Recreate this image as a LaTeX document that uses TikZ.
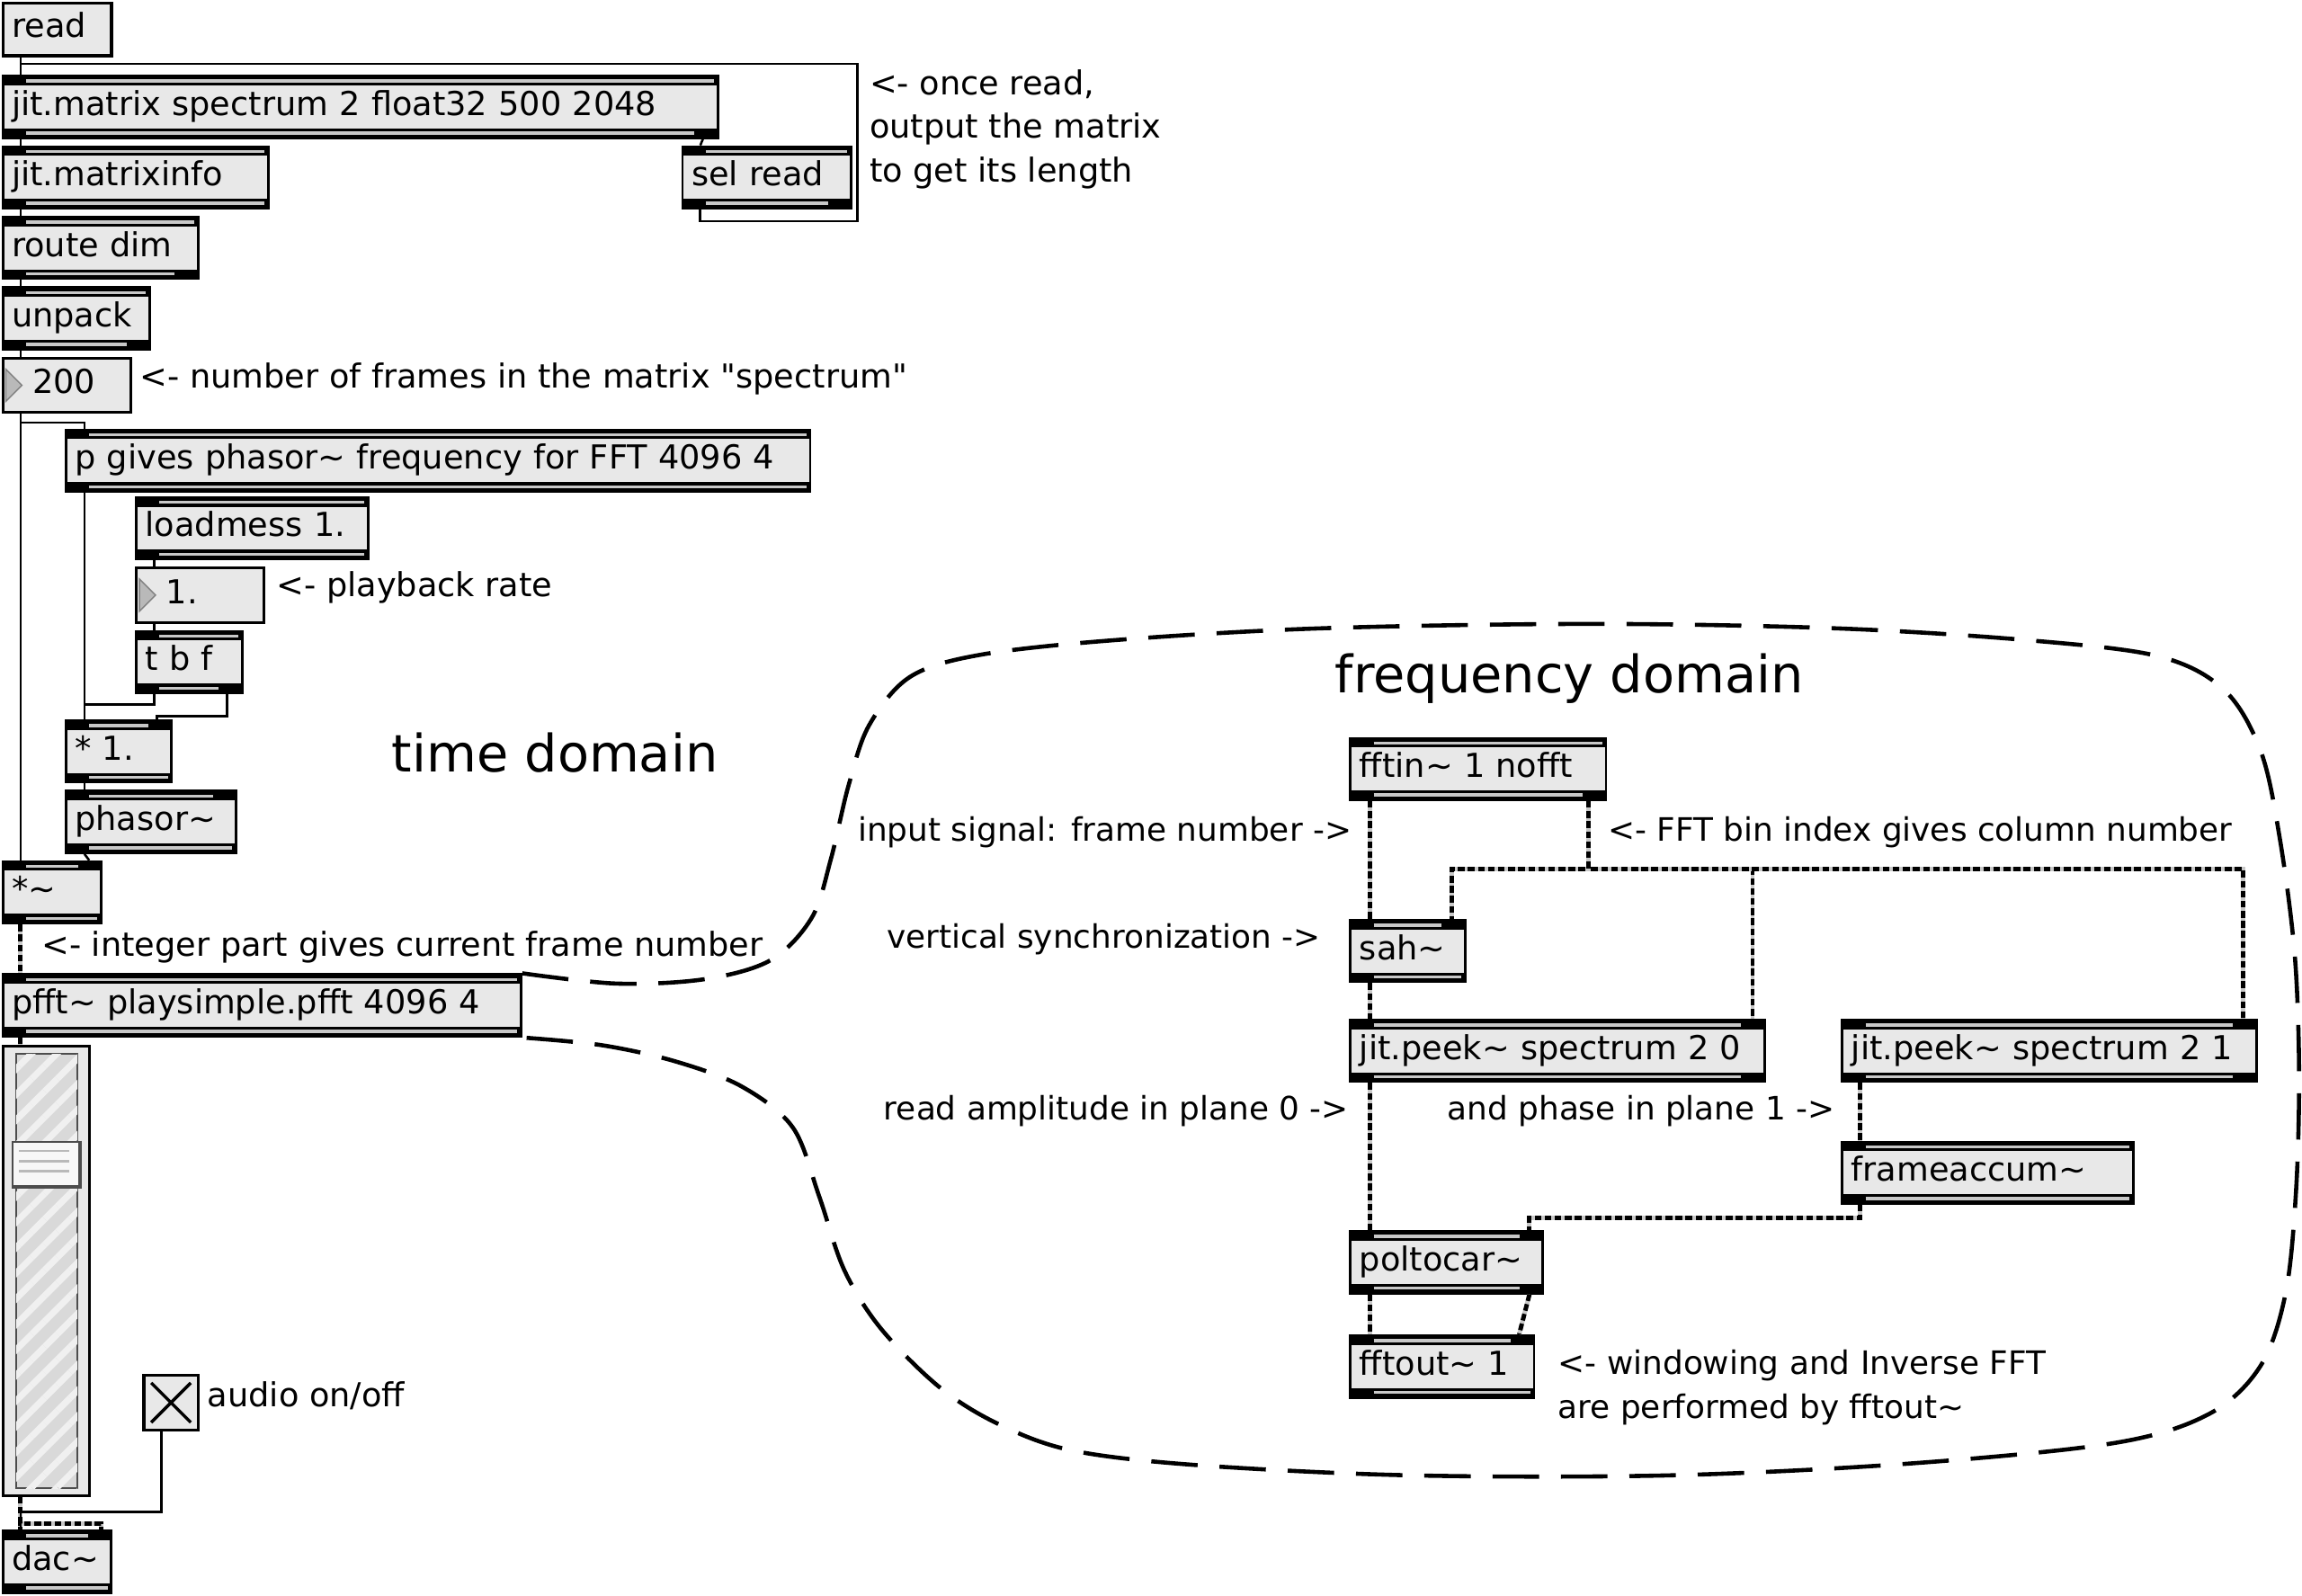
\documentclass[tikz,border=0pt]{standalone}
\usepackage{fontspec}
\setmainfont{DejaVu Sans}[Ligatures=TeXOff]
\usepackage{tikz}
\usetikzlibrary{positioning}
\usetikzlibrary{patterns.meta}
\definecolor{boxgray}{RGB}{232,232,232}
\definecolor{stripegray}{RGB}{200,200,200}
\tikzset{font={\fontsize{12.8pt}{17pt}\selectfont}}
\tikzset{
  boxw/.code={\pgfmathsetlengthmacro\boxw{#1*0.02cm}\pgfmathsetlengthmacro\boxtw{#1*0.02cm-7pt}%
    \edef\boxtmp{\noexpand\pgfkeysalso{minimum width=\boxw, text width=\boxtw}}\boxtmp},
  rin/.code={\def\portr{9pt}},
  rout/.code={\def\portrb{9pt}},
  stripe/.style={stripegray, line width=1.2pt},
  obj/.style={draw, line width=1pt, fill=boxgray, anchor=north west, align=left,
    minimum height=0.84cm, inner xsep=3.5pt, inner ysep=0pt, text height=9pt, text depth=2.5pt,
    /utils/exec={\def\portr{1.5pt}\def\portrb{1.5pt}},
    path picture={
      \fill[black] ([yshift=-3.6pt]path picture bounding box.north west) rectangle (path picture bounding box.north east);
      \fill[black] ([yshift=3.6pt]path picture bounding box.south west) rectangle (path picture bounding box.south east);
      \draw[stripe] ([xshift=9pt,yshift=-1.9pt]path picture bounding box.north west) -- ([xshift=-\portr,yshift=-1.9pt]path picture bounding box.north east);
      \draw[stripe] ([xshift=9pt,yshift=1.9pt]path picture bounding box.south west) -- ([xshift=-\portrb,yshift=1.9pt]path picture bounding box.south east);
    }},
  msg/.style={draw, line width=1.1pt, fill=boxgray, anchor=north west, align=left,
    minimum height=0.72cm, inner xsep=3.5pt, inner ysep=0pt, text height=9pt, text depth=2.5pt},
  numbox/.style={msg, minimum height=0.74cm, execute at begin node={\hspace*{8pt}},
    path picture={
      \filldraw[fill=gray!55, draw=gray, line width=0.5pt] ([shift={(2,-11)}]path picture bounding box.west)
        -- ([shift={(13,0)}]path picture bounding box.west) -- ([shift={(2,11)}]path picture bounding box.west) -- cycle;}},
  cord/.style={line width=0.9pt},
  sig/.style={line width=1.7pt, dash pattern=on 2.6pt off 1.3pt, preaction={draw=stripegray, solid, line width=1.7pt}},
  domline/.style={line width=1.6pt, dash pattern=on 18pt off 8.5pt},
  note/.style={anchor=west, inner sep=0pt, align=left},
  fnote/.style={note, font={\fontsize{12.5pt}{17pt}\selectfont}},
  bignote/.style={inner sep=0pt, font={\fontsize{20pt}{24pt}\selectfont}}
}

\begin{document}
\begin{tikzpicture}[x=0.02cm, y=-0.02cm]
  \path[use as bounding box, fill=white] (0,0) rectangle (1568,1087);

  % Define nodes
  \node[msg, boxw=74] (read) at (1,1) {read};
  \node[obj, boxw=487, rout] (mtx) at (1,51) {jit.matrix spectrum 2 float32 500 2048};
  \node[obj, boxw=181, below=0.085cm of mtx.south west, anchor=north west] (info) {jit.matrixinfo};
  \node[obj, boxw=115, rout] (sel) at (464,99) {sel read};
  \node[obj, boxw=133, rout, below=0.085cm of info.south west, anchor=north west] (route) {route dim};
  \node[obj, boxw=100, rout, below=0.085cm of route.south west, anchor=north west] (unpack) {unpack};
  \node[numbox, boxw=87, below=0.085cm of unpack.south west, anchor=north west] (frames) {200};
  \node[obj, boxw=507] (pfreq) at (44,292) {p gives phasor\textasciitilde{} frequency for FFT 4096 4};
  \node[obj, boxw=158] (loadmess) at (92,338) {loadmess 1.};
  \node[numbox, boxw=87, below=0.085cm of loadmess.south west, anchor=north west] (rate) {1.};
  \node[obj, boxw=72, rout, below=0.085cm of rate.south west, anchor=north west] (tbf) {t b f};
  \node[obj, boxw=72, rin] (mul) at (44,490) {* 1.};
  \node[obj, boxw=116, rin, below=0.085cm of mul.south west, anchor=north west] (phasor) {phasor\textasciitilde};
  \node[obj, boxw=67, rin] (sigmul) at (1,586) {*\textasciitilde};
  \node[obj, boxw=353] (pfft) at (1,663) {pfft\textasciitilde{} playsimple.pfft 4096 4};
  \node[draw, line width=1pt, fill=boxgray, anchor=north west, minimum width=1.18cm, minimum height=6.12cm, inner sep=0pt] (slider) at (1,712) {};
  \node[msg, minimum width=0.74cm, minimum height=0.74cm] (tog) at (97,936) {};
  \node[obj, boxw=74, rin] (dac) at (1,1042) {dac\textasciitilde};

  \node[obj, boxw=174, rout] (fftin) at (919,502) {fftin\textasciitilde{} 1 nofft};
  \node[obj, boxw=78, rin] (sah) at (919,626) {sah\textasciitilde};
  \node[obj, boxw=282, rin, rout] (peekamp) at (919,694) {jit.peek\textasciitilde{} spectrum 2 0};
  \node[obj, boxw=282, rin, rout] (peekphase) at (1254,694) {jit.peek\textasciitilde{} spectrum 2 1};
  \node[obj, boxw=198, below=0.785cm of peekphase.south west, anchor=north west] (accum) {frameaccum\textasciitilde};
  \node[obj, boxw=131, rin, rout] (poltocar) at (919,838) {poltocar\textasciitilde};
  \node[obj, boxw=125, rin, below=0.545cm of poltocar.south west, anchor=north west] (fftout) {fftout\textasciitilde{} 1};

  % Slider and toggle details
  \filldraw[fill=gray!30, draw=gray!60!black, line width=0.6pt,
    postaction={pattern={Lines[angle=45, distance=7pt, line width=2.5pt]}, pattern color=gray!12}]
    ([shift={(10,6)}]slider.north west) rectangle ([shift={(-9,-6)}]slider.south east);
  \node[draw=gray!60!black, fill=gray!6, line width=0.8pt, anchor=north west, minimum width=0.9cm, minimum height=0.6cm, inner sep=0pt] (knob) at (8,777) {};
  \foreach \dy in {7,14,21}
    \draw[gray!55, line width=1pt] ([shift={(5,\dy)}]knob.north west) -- ([shift={(-7,\dy)}]knob.north east);
  \draw[gray!60!black, line width=1.6pt] (knob.north east) -- (knob.south east) -- (knob.south west);
  \draw[line width=1.2pt] ([shift={(6,6)}]tog.north west) -- ([shift={(-6,-6)}]tog.south east)
    ([shift={(-6,6)}]tog.north east) -- ([shift={(6,-6)}]tog.south west);

  % Comments
  \node[note] (readnote) at (592,88) {<- once read,\\output the matrix\\to get its length};
  \node[note] (framesnote) at (95,258) {<- number of frames in the matrix "spectrum"};
  \node[note] (ratenote) at (188,400) {<- playback rate};
  \node[bignote] (timedom) at (378,513) {time domain};
  \node[note] (intnote) at (28,645) {<- integer part gives current frame number};
  \node[note] (audionote) at (141,951) {audio on/off};
  \node[bignote] (freqdom) at (1069,462) {frequency domain};
  \node[fnote, anchor=east] (innote) at (921,567) {input signal: frame number ->};
  \node[fnote] (binnote) at (1095,567) {<- FFT bin index gives column number};
  \node[fnote, anchor=east] (syncnote) at (900,640) {vertical synchronization ->};
  \node[fnote, anchor=east] (ampnote) at (919,757) {read amplitude in plane 0 ->};
  \node[fnote, anchor=east] (phasenote) at (1250,757) {and phase in plane 1 ->};
  \node[fnote] (ifftnote) at (1061,945) {<- windowing and Inverse FFT\\are performed by fftout\textasciitilde};

  % Connect the nodes
  \draw[cord] ([shift={(13,0)}]read.south west) -- ([shift={(13,0)}]mtx.north west);
  \draw[cord] ([shift={(13,0)}]sel.south west) -- ++(0,8) -- ++(107,0) |- ([shift={(13,-7.5)}]mtx.north west) -- ([shift={(13,0)}]mtx.north west);
  \draw[cord] ([shift={(-11,0)}]mtx.south east) -- ([shift={(13,0)}]sel.north west);
  \draw[cord] ([shift={(13,0)}]mtx.south west) -- ([shift={(13,0)}]info.north west);
  \draw[cord] ([shift={(13,0)}]info.south west) -- ([shift={(13,0)}]route.north west);
  \draw[cord] ([shift={(13,0)}]route.south west) -- ([shift={(13,0)}]unpack.north west);
  \draw[cord] ([shift={(13,0)}]unpack.south west) -- ([shift={(13,0)}]frames.north west);
  \draw[cord] ([shift={(13,0)}]frames.south west) -- ([shift={(13,0)}]sigmul.north west);
  \draw[cord] ([shift={(13,0)}]frames.south west) -- ++(0,6) -| ([shift={(13.5,0)}]pfreq.north west);
  \draw[cord] ([shift={(13.5,0)}]pfreq.south west) -- ([shift={(13.5,0)}]mul.north west);
  \draw[cord] ([shift={(13,0)}]loadmess.south west) -- ([shift={(13,0)}]rate.north west);
  \draw[cord] ([shift={(13,0)}]rate.south west) -- ([shift={(13,0)}]tbf.north west);
  \draw[cord] ([shift={(13,0)}]tbf.south west) -- ++(0,7) -| ([shift={(13.5,0)}]mul.north west);
  \draw[cord] ([shift={(-11,0)}]tbf.south east) -- ++(0,15) -| ([shift={(-11,0)}]mul.north east);
  \draw[cord] ([shift={(13.5,0)}]mul.south west) -- ([shift={(13.5,0)}]phasor.north west);
  \draw[cord] ([shift={(13.5,0)}]phasor.south west) -- ([shift={(-9,0)}]sigmul.north east);
  \draw[sig] ([shift={(13,0)}]sigmul.south west) -- ([shift={(13,0)}]pfft.north west);
  \draw[sig] ([shift={(13,0)}]pfft.south west) -- ([shift={(13,0)}]slider.north west);
  \draw[sig] ([shift={(13,0)}]slider.south west) -- ([shift={(13,0)}]dac.north west);
  \draw[sig] ([shift={(13,0)}]slider.south west) -- ++(0,18) -| ([shift={(-8,0)}]dac.north east);
  \draw[cord] ([shift={(13,0)}]tog.south west) -- ++(0,55) -| ([shift={(13,0)}]dac.north west);

  \draw[sig] ([shift={(14,0)}]fftin.south west) -- ([shift={(14,0)}]sah.north west);
  \draw[sig] ([shift={(-13,0)}]fftin.south east) -- ++(0,46) -| ([shift={(-10,0)}]sah.north east);
  \draw[sig] ([shift={(-13,0)}]fftin.south east) -- ++(0,46) -| ([shift={(-9,0)}]peekamp.north east);
  \draw[sig] ([shift={(-13,0)}]fftin.south east) -- ++(0,46) -| ([shift={(-10,0)}]peekphase.north east);
  \draw[sig] ([shift={(14,0)}]sah.south west) -- ([shift={(14,0)}]peekamp.north west);
  \draw[sig] ([shift={(14,0)}]peekamp.south west) -- ([shift={(14,0)}]poltocar.north west);
  \draw[sig] ([shift={(13,0)}]peekphase.south west) -- ([shift={(13,0)}]accum.north west);
  \draw[sig] ([shift={(13,0)}]accum.south west) -- ++(0,9) -| ([shift={(-10,0)}]poltocar.north east);
  \draw[sig] ([shift={(14,0)}]poltocar.south west) -- ([shift={(14,0)}]fftout.north west);
  \draw[sig] ([shift={(-10,0)}]poltocar.south east) -- ([shift={(-11,0)}]fftout.north east);

  % Frequency domain outline
  \draw[domline] plot[smooth, tension=0.55] coordinates {(pfft.north east) (420,670) (480,667) (525,654)
    (553,625) (566,585) (578,535) (592,494) (620,461) (668,446) (760,436) (900,428) (1085,425)
    (1250,428) (1380,436) (1470,447) (1515,470) (1540,512) (1553,572) (1563,650) (1566,730)
    (1564,810) (1557,880) (1540,930) (1505,963) (1440,983) (1300,997) (1137,1005) (961,1005)
    (815,998) (730,988) (680,970) (640,945) (600,905) (575,865) (558,815) (540,768) (505,740)
    (460,723) (410,712) (pfft.south east)};
\end{tikzpicture}
\end{document}
